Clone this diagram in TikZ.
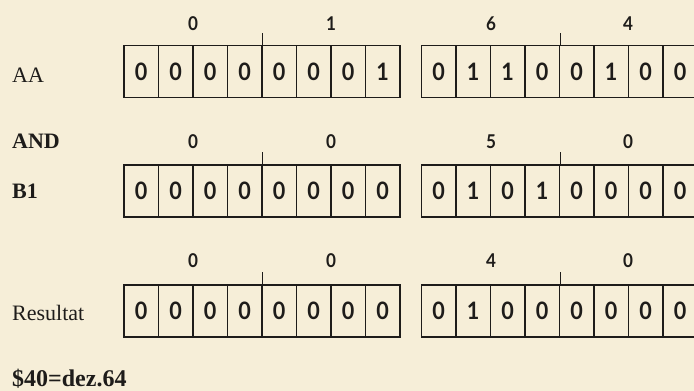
\documentclass[tikz,border=0pt]{standalone}
\usepackage{fontspec}
\usetikzlibrary{calc}
\setmainfont{Liberation Serif}
\newfontfamily\digitfont[FakeStretch=0.9]{Lato}
\definecolor{paper}{RGB}{246,238,216}
\definecolor{ink}{RGB}{30,28,26}
\begin{document}
\begin{tikzpicture}[x=1pt,y=-1pt,
  cell/.style={draw=ink,line width=1.1pt,minimum width=34.5pt,minimum height=52pt,inner sep=0pt,text=ink,
    font=\digitfont\bfseries\fontsize{24}{24}\selectfont},
  nib/.style={anchor=base,text=ink,font=\digitfont\bfseries\fontsize{19}{19}\selectfont},
  rowlabel/.style={anchor=base west,inner sep=0pt,text=ink,font=\fontsize{22}{22}\selectfont},
  boldlabel/.style={rowlabel,font=\bfseries\fontsize{22}{22}\selectfont},
  tickline/.style={draw=ink,line width=1.1pt}]
\useasboundingbox[fill=paper] (0,0) rectangle (694,391);
\foreach \r/\yc/\yn/\bits/\nibs in {
  a/71.5/30/{0,0,0,0,0,0,0,1,0,1,1,0,0,1,0,0}/{0,1,6,4},
  b/191/148/{0,0,0,0,0,0,0,0,0,1,0,1,0,0,0,0}/{0,0,5,0},
  c/311/267/{0,0,0,0,0,0,0,0,0,1,0,0,0,0,0,0}/{0,0,4,0}}{
  \foreach \b [count=\i] in \bits {
    \ifnum\i<9
      \pgfmathsetmacro\xc{124+(\i-0.5)*34.5}
    \else
      \pgfmathsetmacro\xc{421.5+(\i-8.5)*34.5}
    \fi
    \node[cell] (\r\i) at (\xc,\yc) {\b};
  }
  \coordinate (\r t1) at ($(\r4.north east)+(0,-12)$);
  \coordinate (\r t2) at ($(\r12.north east)+(0,-12)$);
  \draw[tickline] (\r4.north east) -- (\r t1);
  \draw[tickline] (\r12.north east) -- (\r t2);
  \foreach \n [count=\j] in \nibs {
    \pgfmathsetmacro\xn{{193,331,491,628}[\j-1]}
    \node[nib] (\r n\j) at (\xn,\yn) {\n};
  }
}
\node[rowlabel] (laa) at (12,82) {AA};
\node[boldlabel] (land) at (12,148) {AND};
\node[boldlabel] (lb1) at (12,198) {B1};
\node[rowlabel] (lres) at (12,320) {Resultat};
\node[boldlabel,font=\bfseries\fontsize{24}{24}\selectfont] (lhex) at (12,386) {\$40=dez.64};
\end{tikzpicture}
\end{document}
